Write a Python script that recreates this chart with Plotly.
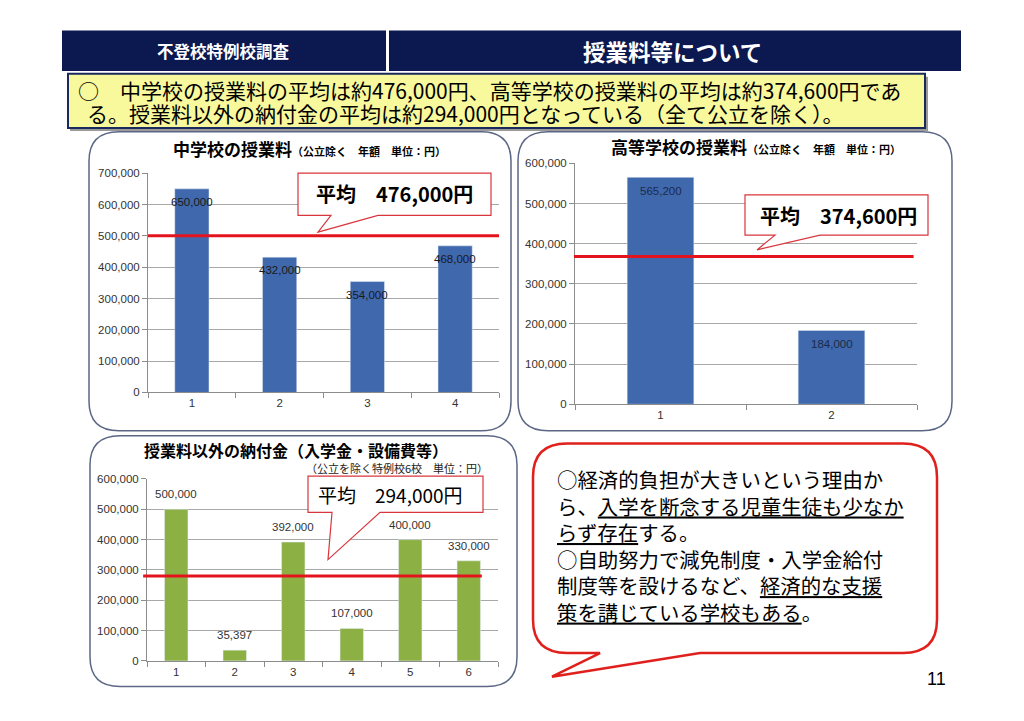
import plotly.graph_objects as go

# ---------------- data ----------------
jh_schools = ["1", "2", "3", "4"]
jh_fees = [650000, 432000, 354000, 468000]
jh_line_level = 500000
jh_avg_label = "平均　476,000円"

hs_schools = ["1", "2"]
hs_fees = [565200, 184000]
hs_line_level = 368000
hs_avg_label = "平均　374,600円"

other_schools = ["1", "2", "3", "4", "5", "6"]
other_fees = [500000, 35397, 392000, 107000, 400000, 330000]
other_line_level = 280000
other_avg_label = "平均　294,000円"

header_left = "不登校特例校調査"
header_right = "授業料等について"
summary_lines = [
    "○　中学校の授業料の平均は約476,000円、高等学校の授業料の平均は約374,600円であ",
    "る。授業料以外の納付金の平均は約294,000円となっている（全て公立を除く）。",
]
note_lines = [
    "○経済的負担が大きいという理由か",
    "ら、<u>入学を断念する児童生徒も少なか</u>",
    "<u>らず存在</u>する。",
    "○自助努力で減免制度・入学金給付",
    "制度等を設けるなど、<u>経済的な支援</u>",
    "<u>策を講じている学校もある</u>。",
]

W, H = 1024, 721
JP = "Noto Sans CJK JP"
LAT = "Liberation Sans, Noto Sans, sans-serif"
BLUE = "#3f68ad"
GREEN = "#8cb043"
RED = "#e3141e"
NAVY = "#0c1850"


def X(p):
    return p / W


def Y(p):
    return 1 - p / H


def rrect(x0, y0, x1, y1, r):
    return (f"M {X(x0+r)},{Y(y0)} L {X(x1-r)},{Y(y0)} Q {X(x1)},{Y(y0)} {X(x1)},{Y(y0+r)} "
            f"L {X(x1)},{Y(y1-r)} Q {X(x1)},{Y(y1)} {X(x1-r)},{Y(y1)} "
            f"L {X(x0+r)},{Y(y1)} Q {X(x0)},{Y(y1)} {X(x0)},{Y(y1-r)} "
            f"L {X(x0)},{Y(y0+r)} Q {X(x0)},{Y(y0)} {X(x0+r)},{Y(y0)} Z")


def callout(x0, y0, x1, y1, bl, br, tx, ty):
    return (f"M {X(x0)},{Y(y0)} L {X(x1)},{Y(y0)} L {X(x1)},{Y(y1)} L {X(br)},{Y(y1)} "
            f"L {X(tx)},{Y(ty)} L {X(bl)},{Y(y1)} L {X(x0)},{Y(y1)} Z")


fig = go.Figure()

fig.add_trace(go.Bar(x=jh_schools, y=jh_fees, marker_color=BLUE, width=0.39,
                     xaxis="x", yaxis="y", hoverinfo="skip"))
fig.add_trace(go.Bar(x=hs_schools, y=hs_fees, marker_color=BLUE, width=0.39,
                     xaxis="x2", yaxis="y2", hoverinfo="skip"))
fig.add_trace(go.Bar(x=other_schools, y=other_fees, marker_color=GREEN, width=0.40,
                     xaxis="x3", yaxis="y3", hoverinfo="skip"))

axis_common = dict(type="category", showline=True, linecolor="#8c8c8c", ticks="outside",
                   tickson="boundaries", ticklen=5, tickcolor="#8c8c8c", showgrid=False,
                   tickfont=dict(family=LAT, size=11.5, color="#333333"), fixedrange=True)
yaxis_common = dict(showline=True, linecolor="#8c8c8c", ticks="outside", ticklen=5,
                    tickcolor="#8c8c8c", showgrid=True, gridcolor="#a8a8a8", gridwidth=1,
                    zeroline=False, tickformat=",", dtick=100000,
                    tickfont=dict(family=LAT, size=11.5, color="#333333"), fixedrange=True)

fig.update_layout(
    width=W, height=H, margin=dict(l=0, r=0, t=0, b=0),
    paper_bgcolor="white", plot_bgcolor="rgba(0,0,0,0)", showlegend=False,
    xaxis=dict(domain=[X(148), X(499)], anchor="y", range=[-0.5, len(jh_schools) - 0.5], **axis_common),
    yaxis=dict(domain=[Y(393), Y(170)], anchor="x", range=[0, 700000], **yaxis_common),
    xaxis2=dict(domain=[X(575), X(917)], anchor="y2", range=[-0.5, len(hs_schools) - 0.5], **axis_common),
    yaxis2=dict(domain=[Y(405), Y(160)], anchor="x2", range=[0, 600000], **yaxis_common),
    xaxis3=dict(domain=[X(147), X(498)], anchor="y3", range=[-0.5, len(other_schools) - 0.5], **axis_common),
    yaxis3=dict(domain=[Y(666), Y(481)], anchor="x3", range=[0, 600000], **yaxis_common),
)

shapes = []
# header bars
shapes.append(dict(type="rect", xref="paper", yref="paper", x0=X(62), x1=X(386), y0=Y(66), y1=Y(25),
                   fillcolor=NAVY, line=dict(width=0), layer="below"))
shapes.append(dict(type="rect", xref="paper", yref="paper", x0=X(389), x1=X(961), y0=Y(66), y1=Y(25),
                   fillcolor=NAVY, line=dict(width=0), layer="below"))
# summary yellow box (shadow + box)
shapes.append(dict(type="rect", xref="paper", yref="paper", x0=X(70), x1=X(928), y0=Y(127), y1=Y(72),
                   fillcolor="#9a9a9a", line=dict(width=0), layer="below"))
shapes.append(dict(type="rect", xref="paper", yref="paper", x0=X(68), x1=X(925), y0=Y(124), y1=Y(69),
                   fillcolor="#f8f89c", line=dict(color="#1a2a5c", width=2), layer="below"))
# chart panels
for (a, b, c, d) in [(89, 128, 511, 432), (518, 128, 952, 432), (90, 437, 517, 692)]:
    shapes.append(dict(type="path", xref="paper", yref="paper", path=rrect(a, b, c, d, 30),
                       fillcolor="white", line=dict(color="#5b6785", width=1.5), layer="below"))

# average lines
shapes.append(dict(type="line", xref="x domain", yref="y", x0=0, x1=1, y0=jh_line_level, y1=jh_line_level,
                   line=dict(color=RED, width=3)))
shapes.append(dict(type="line", xref="x2 domain", yref="y2", x0=-0.003, x1=0.99, y0=hs_line_level,
                   y1=hs_line_level, line=dict(color=RED, width=3)))
shapes.append(dict(type="line", xref="x3 domain", yref="y3", x0=-0.011, x1=0.954, y0=other_line_level,
                   y1=other_line_level, line=dict(color=RED, width=3)))

# callouts for average
for args in [(298, 170, 491, 213, 331, 378, 318, 230),
             (745, 192, 928, 233, 775, 820, 757, 248),
             (308, 478, 483, 515, 332, 380, 328, 563)]:
    shapes.append(dict(type="path", xref="paper", yref="paper", path=callout(*args),
                       fillcolor="white", line=dict(color="#d8363c", width=1.2)))

# bottom-right speech bubble
x0, y0, x1, y1, r = 533, 445, 937, 658, 34
bubble = (f"M {X(x0+r)},{Y(y0)} L {X(x1-r)},{Y(y0)} Q {X(x1)},{Y(y0)} {X(x1)},{Y(y0+r)} "
          f"L {X(x1)},{Y(y1-r)} Q {X(x1)},{Y(y1)} {X(x1-r)},{Y(y1)} "
          f"L {X(700)},{Y(y1)} L {X(552)},{Y(682)} L {X(600)},{Y(y1)} "
          f"L {X(x0+r)},{Y(y1)} Q {X(x0)},{Y(y1)} {X(x0)},{Y(y1-r)} "
          f"L {X(x0)},{Y(y0+r)} Q {X(x0)},{Y(y0)} {X(x0+r)},{Y(y0)} Z")
shapes.append(dict(type="path", xref="paper", yref="paper", path=bubble,
                   fillcolor="white", line=dict(color="#e0201c", width=2.5)))
fig.update_layout(shapes=shapes)

ann = []


def txt(x, y, text, size, color="black", bold=False, xanchor="center", family=JP, align="center"):
    if bold:
        text = f"<b>{text}</b>"
    ann.append(dict(xref="paper", yref="paper", x=X(x), y=Y(y), text=text, showarrow=False,
                    xanchor=xanchor, yanchor="middle", align=align,
                    font=dict(family=family, size=size, color=color)))


# headers
txt(223, 46, header_left, 16.5, "white", True)
txt(672, 46, header_right, 22.5, "white", True)
# summary
txt(76, 85, summary_lines[0], 21, "black", False, "left")
txt(85, 108.5, summary_lines[1], 21, "black", False, "left")
# chart titles
txt(309, 145, "中学校の授業料<span style='font-size:11px'>（公立除く　年額　単位：円）</span>", 17, "black", True)
txt(756, 143, "高等学校の授業料<span style='font-size:11px'>（公立除く　年額　単位：円）</span>", 17, "black", True)
txt(296, 452, "授業料以外の納付金（入学金・設備費等）", 16, "black", True)
txt(490, 470, "（公立を除く特例校6校　単位：円）", 11, "#222222", False, "right")
# callout texts
txt(394, 191, jh_avg_label, 20, "black", True)
txt(838, 213, hs_avg_label, 20, "black", True)
txt(390, 497, other_avg_label, 19, "black", False)
# note bubble text (one block, 1.3em line spacing)
txt(555, 482 + 2.5 * 26.5, "<br>".join(note_lines), 20.4, "black", False, "left", align="left")
# page number
txt(936, 684, "11", 18, "black", False, "center", LAT)

# bar value labels (from data; x given as category index)
for i, v in enumerate(jh_fees):
    ann.append(dict(xref="x", yref="y", x=i, y=v, yshift=-13, text=f"{v:,}", showarrow=False,
                    font=dict(family=LAT, size=11.5, color="#1a1a1a")))
for i, v in enumerate(hs_fees):
    ann.append(dict(xref="x2", yref="y2", x=i, y=v, yshift=-14, text=f"{v:,}", showarrow=False,
                    font=dict(family=LAT, size=11.5, color="#1c2a4a")))
for i, v in enumerate(other_fees):
    ann.append(dict(xref="x3", yref="y3", x=i, y=v, yshift=15, text=f"{v:,}", showarrow=False,
                    font=dict(family=LAT, size=11.5, color="#333333")))

fig.update_layout(annotations=ann)
fig.write_html("out.html")
